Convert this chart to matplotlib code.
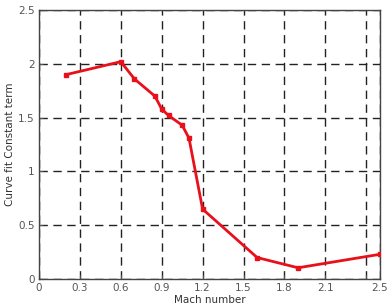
import matplotlib
matplotlib.use("Agg")
import matplotlib.pyplot as plt

# Curve fit constant term vs Mach number
mach = [0.2, 0.6, 0.7, 0.85, 0.9, 0.95, 1.05, 1.1, 1.2, 1.6, 1.9, 2.5]
const_term = [1.9, 2.02, 1.86, 1.7, 1.58, 1.52, 1.43, 1.31, 0.65, 0.2, 0.105, 0.23]

x_ticks = [0, 0.3, 0.6, 0.9, 1.2, 1.5, 1.8, 2.1, 2.4, 2.5]
x_labels = ['0', '0.3', '0.6', '0.9', '1.2', '1.5', '1.8', '2.1', '', '2.5']
y_ticks = [0, 0.5, 1, 1.5, 2, 2.5]
y_labels = ['0', '0.5', '1', '1.5', '2', '2.5']

fig = plt.figure(figsize=(3.88, 3.04), dpi=100)
ax = fig.add_axes([0.1005, 0.082, 0.8785, 0.885])

ax.plot(mach, const_term, color='#e8101a', linewidth=2.0, marker='s',
        markersize=3.5, zorder=3)

ax.set_xlim(0, 2.5)
ax.set_ylim(0, 2.5)
ax.set_xticks(x_ticks)
ax.set_xticklabels(x_labels)
ax.set_yticks(y_ticks)
ax.set_yticklabels(y_labels)

ax.grid(True, color='#222222', linestyle=(0, (6, 4)), linewidth=1.0)
ax.tick_params(direction='in', length=3, labelsize=7.5, colors='#555555',
               pad=3)
for s in ax.spines.values():
    s.set_color('#444444')
    s.set_linewidth(1.0)

# label sits right at the bottom edge, as in the reference
ax.set_xlabel('Mach number', fontsize=7.5, color='#333333', labelpad=1)
ax.set_ylabel('Curve fit Constant term', fontsize=7.5, color='#333333',
              labelpad=2)

fig.savefig('out.png', dpi=100, facecolor='white')
plt.close(fig)
